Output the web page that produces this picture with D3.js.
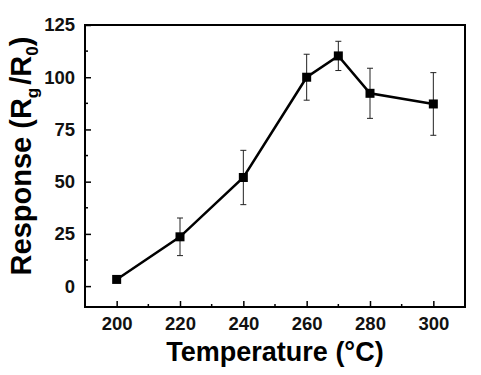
<!DOCTYPE html>
<html>
<head>
<meta charset="utf-8">
<script src="https://cdn.jsdelivr.net/npm/d3@7"></script>
<style>
  body { margin: 0; background: #fff; }
  svg { display: block; font-family: "Liberation Sans", Arial, sans-serif; }
</style>
</head>
<body>
<svg id="chart" width="481" height="375"></svg>
<script>
const temperatures = [200, 220, 240, 260, 270, 280, 300];
const responses = [3.2, 23.6, 52, 100, 110.2, 92.3, 87.2];
const errors = [1, 9, 13, 11, 7, 12, 15];
const xTicks = [200, 220, 240, 260, 280, 300];
const yTicks = [0, 25, 50, 75, 100, 125];

const svg = d3.select("#chart");
const margin = { top: 25, right: 16, bottom: 68, left: 85 };
const width = +svg.attr("width");
const height = +svg.attr("height");
const innerW = width - margin.left - margin.right;
const innerH = height - margin.top - margin.bottom;
const g = svg.append("g").attr("transform", `translate(${margin.left},${margin.top})`);

const x = d3.scaleLinear().domain([190, 310]).range([0, innerW]);
const y = d3.scaleLinear().domain([-10, 125]).range([innerH, 0]);

const data = temperatures.map((t, i) => ({ t, r: responses[i], e: errors[i] }));

// minor ticks
const xMinor = d3.range(190, 311, 10).filter(d => !xTicks.includes(d) && d > 190 && d < 310);
const yMinor = d3.range(-12.5, 125, 12.5).filter(d => !yTicks.includes(d) && d > -10);

g.selectAll(".xminor").data(xMinor).enter().append("line")
  .attr("x1", d => x(d)).attr("x2", d => x(d))
  .attr("y1", innerH).attr("y2", innerH - 3)
  .attr("stroke", "#000").attr("stroke-width", 1.5);
g.selectAll(".yminor").data(yMinor).enter().append("line")
  .attr("y1", d => y(d)).attr("y2", d => y(d))
  .attr("x1", 0).attr("x2", 3)
  .attr("stroke", "#000").attr("stroke-width", 1.5);

// axes with inward ticks
const xAxis = g.append("g")
  .attr("transform", `translate(0,${innerH})`)
  .call(d3.axisBottom(x).tickValues(xTicks).tickSizeInner(-6).tickSizeOuter(0).tickPadding(10));
const yAxis = g.append("g")
  .call(d3.axisLeft(y).tickValues(yTicks).tickSizeInner(-6).tickSizeOuter(0).tickPadding(10));

[xAxis, yAxis].forEach(a => {
  a.select(".domain").remove();
  a.selectAll("line").attr("stroke-width", 1.5);
  a.selectAll("text")
    .style("font-family", "'Liberation Sans', Arial, sans-serif")
    .style("font-size", "18.5px")
    .style("font-weight", "bold")
    .attr("fill", "#111");
});

// frame
g.append("rect")
  .attr("width", innerW).attr("height", innerH)
  .attr("fill", "none").attr("stroke", "#000").attr("stroke-width", 2);

// error bars
const capW = 3;
const eb = g.selectAll(".err").data(data).enter().append("g");
eb.append("line")
  .attr("x1", d => x(d.t)).attr("x2", d => x(d.t))
  .attr("y1", d => y(d.r - d.e)).attr("y2", d => y(d.r + d.e))
  .attr("stroke", "#222").attr("stroke-width", 1);
eb.append("line")
  .attr("x1", d => x(d.t) - capW).attr("x2", d => x(d.t) + capW)
  .attr("y1", d => y(d.r + d.e)).attr("y2", d => y(d.r + d.e))
  .attr("stroke", "#222").attr("stroke-width", 1);
eb.append("line")
  .attr("x1", d => x(d.t) - capW).attr("x2", d => x(d.t) + capW)
  .attr("y1", d => y(d.r - d.e)).attr("y2", d => y(d.r - d.e))
  .attr("stroke", "#222").attr("stroke-width", 1);

// line
g.append("path")
  .datum(data)
  .attr("fill", "none")
  .attr("stroke", "#000")
  .attr("stroke-width", 2.5)
  .attr("d", d3.line().x(d => x(d.t)).y(d => y(d.r)));

// square markers
const s = 9;
g.selectAll(".pt").data(data).enter().append("rect")
  .attr("x", d => x(d.t) - s / 2).attr("y", d => y(d.r) - s / 2)
  .attr("width", s).attr("height", s)
  .attr("fill", "#000");

// axis titles
svg.append("text")
  .attr("x", margin.left + x(250)).attr("y", 361)
  .attr("text-anchor", "middle")
  .style("font-size", "27px").style("font-weight", "bold")
  .text("Temperature (°C)");

const yt = svg.append("text")
  .attr("transform", `translate(31,${156}) rotate(-90)`)
  .attr("text-anchor", "middle")
  .style("font-size", "29px").style("font-weight", "bold");
yt.append("tspan").text("Response (R");
yt.append("tspan").attr("dy", 7).style("font-size", "17px").text("g");
yt.append("tspan").attr("dy", -7).attr("dx", 3).text("/R");
yt.append("tspan").attr("dy", 7).style("font-size", "17px").text("0");
yt.append("tspan").attr("dy", -7).text(")");
</script>
</body>
</html>
